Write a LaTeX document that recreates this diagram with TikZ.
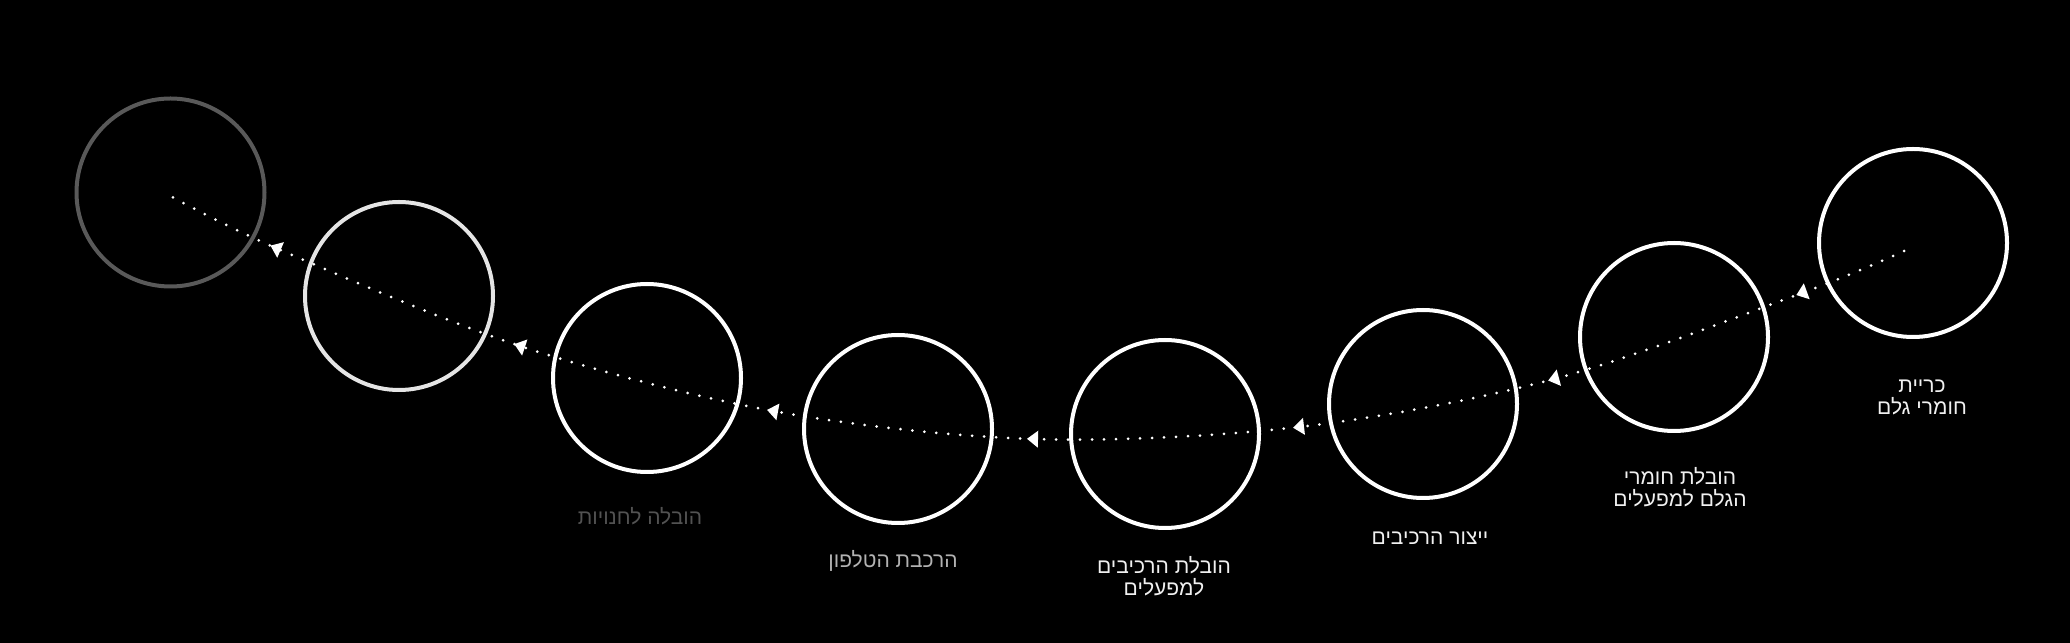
\documentclass[tikz,border=0pt]{standalone}
\usepackage{fontspec}
\newfontfamily\hebfont[Script=Hebrew]{Liberation Sans}
\TeXXeTstate=1
\begin{document}
\begin{tikzpicture}[x=0.5pt,y=0.5pt,
  stage/.style={circle,draw=white,line width=2pt,minimum size=94pt,inner sep=0pt},
  lbl/.style={align=center,font=\hebfont\fontsize{10.5pt}{11pt}\selectfont,text=#1,inner sep=0pt},
  lbl/.default={white!94!black},
  flow/.style={draw=white,line width=1.5pt,line cap=round,dash pattern=on 0pt off 6pt},
  tip/.style={fill=white}]
\useasboundingbox (0,0) rectangle (2070,642);
\fill[black] (-20,-20) rectangle (2090,662);
% stages
\node[stage,draw=black!65!white] (s1) at (170.5,449.5) {};
\node[stage,draw=white!90!black] (s2) at (399,346) {};
\node[stage] (s3) at (647,264) {};
\node[stage] (s4) at (898,213) {};
\node[stage] (s5) at (1165,208) {};
\node[stage] (s6) at (1423,238) {};
\node[stage] (s7) at (1674,305) {};
\node[stage] (s8) at (1913,399) {};
% labels
\node[lbl] (l8) at (1922,244.5) {\beginR כריית\endR\\\beginR חומרי גלם\endR};
\node[lbl] (l7) at (1680,155) {\beginR הובלת חומרי\endR\\\beginR הגלם למפעלים\endR};
\node[lbl] (l6) at (1430,104) {\beginR ייצור הרכיבים\endR};
\node[lbl] (l5) at (1164,66) {\beginR הובלת הרכיבים\endR\\\beginR למפעלים\endR};
\node[lbl=black!30!white] (l4) at (893,81) {\beginR הרכבת הטלפון\endR};
\node[lbl=black!68!white] (l3) at (640,126) {\beginR הובלה לחנויות\endR};
% flow path
\coordinate (p0) at (1904,391);
\coordinate (a1) at (1802,349);
\coordinate (a2) at (1554,263);
\coordinate (a3) at (1299,215);
\coordinate (a4) at (1033,203);
\coordinate (a5) at (773,231);
\coordinate (a6) at (520,296);
\coordinate (a7) at (276,394);
\coordinate (p8) at (163,450);
\draw[flow] plot[smooth,tension=0.55] coordinates {(p0) (a1) (a2) (a3) (a4) (a5) (a6) (a7) (p8)};
\foreach \c/\ang in {a1/200.1,a2/194.9,a3/186.6,a4/178.3,a5/169.7,a6/161.8,a7/156.7}{
  \fill[tip,shift={(\c)},rotate=\ang] (6,0) -- (-5,8.5) -- (-5,-8.5) -- cycle;
}
\end{tikzpicture}
\end{document}
